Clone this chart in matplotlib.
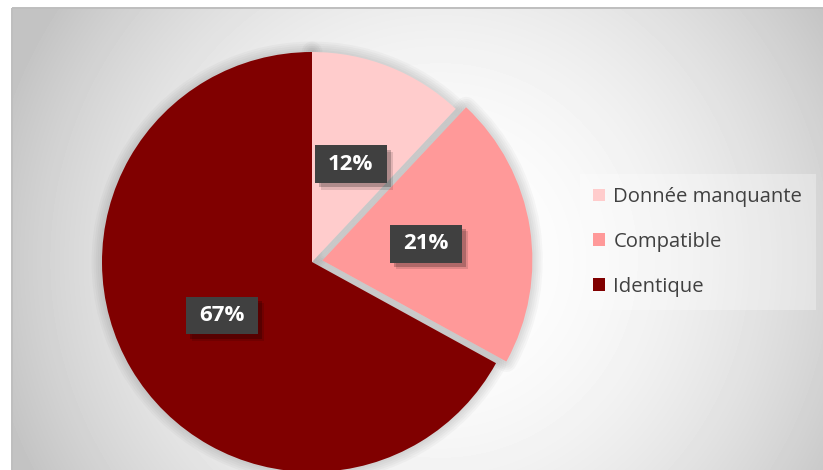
import numpy as np
import matplotlib
matplotlib.use("Agg")
import matplotlib.pyplot as plt
from matplotlib.patches import Patch, Rectangle
import matplotlib.patheffects as pe

plt.rcParams["font.family"] = ["Open Sans", "DejaVu Sans"]

# share of records by match status
categories = ["Donnée manquante", "Compatible", "Identique"]
shares = [12, 21, 67]
colors = ["#FFCCCC", "#FF9999", "#800000"]
explode = [0, 0.05, 0]

W, H = 823, 470
fig = plt.figure(figsize=(W / 100, H / 100), dpi=100, facecolor="white")

# background layer in pixel units
bg = fig.add_axes([0, 0, 1, 1])
bg.set_xlim(0, W)
bg.set_ylim(H, 0)
bg.axis("off")

xx, yy = np.meshgrid(np.arange(12, W), np.arange(8, H))
d = np.hypot(xx - 440, yy - 260) / 450
shade = np.clip(255 - 57 * d ** 2, 196, 255)
bg.imshow(shade, cmap="gray", vmin=0, vmax=255, extent=(12, W, H, 8),
          aspect="auto", interpolation="bilinear")
bg.add_patch(Rectangle((12, 7.5), W, H, fill=False, ec="#BEBEBE", lw=1.4))

# pie axes: centre at (312, 262) px, radius 210 px
r = 210
half = 250
ax = fig.add_axes([(312 - half) / W, (H - 262 - half) / H, 2 * half / W, 2 * half / H])
ax.patch.set_visible(False)

# soft shadow around the wedges
for lw in [15, 12, 9, 6, 3]:
    ax.pie(shares, explode=explode, startangle=90, counterclock=False,
           wedgeprops=dict(fc="none", ec="#5A5A5A", lw=lw, alpha=0.045,
                           joinstyle="round"))

wedges, texts, autotexts = ax.pie(
    shares, explode=explode, colors=colors, startangle=90, counterclock=False,
    autopct=lambda p: f"{p:.0f}%", pctdistance=0.5,
    wedgeprops=dict(ec="none"),
    textprops=dict(color="white", fontsize=16, fontweight="bold"))

for t in autotexts:
    t.set_bbox(dict(boxstyle="square,pad=0.6", fc="#404040", ec="none",
                    mutation_aspect=0.63))
    t.set_zorder(5)
    # drop shadow behind the label box
    t.get_bbox_patch().set_path_effects([
        pe.SimplePatchShadow(offset=(4.5, -4.5), shadow_rgbFace="black", alpha=0.12),
        pe.SimplePatchShadow(offset=(3, -3), shadow_rgbFace="black", alpha=0.22),
        pe.Normal()])

ax.set_xlim(-half / r, half / r)
ax.set_ylim(-half / r, half / r)
ax.axis("off")

handles = [Patch(fc=c, ec="none") for c in colors]
leg = fig.legend(handles, categories, loc="upper left",
                 bbox_to_anchor=(580 / W, 1 - 174 / H), borderaxespad=0,
                 fontsize=14.6, handlelength=0.6, handleheight=0.6,
                 handletextpad=0.4, labelspacing=1.22, borderpad=0.65,
                 frameon=True, fancybox=False)
leg.get_frame().set_facecolor("white")
leg.get_frame().set_alpha(0.3)
leg.get_frame().set_edgecolor("none")
for t in leg.get_texts():
    t.set_color("#404040")

fig.savefig("out.png", dpi=100, facecolor="white")
